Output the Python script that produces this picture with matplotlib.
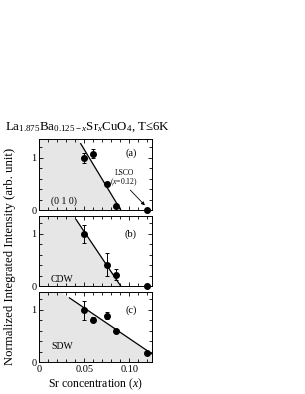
import numpy as np
import matplotlib.pyplot as plt
from matplotlib.ticker import MultipleLocator, FixedLocator

plt.rcParams['font.family'] = ['Liberation Serif', 'DejaVu Serif']
plt.rcParams['mathtext.fontset'] = 'custom'
plt.rcParams['mathtext.rm'] = 'Liberation Serif'
plt.rcParams['mathtext.it'] = 'Liberation Serif:italic'

# panel (a): (0 1 0)
a_x = [0.05, 0.06, 0.075, 0.085, 0.12]
a_y = [1.00, 1.08, 0.50, 0.07, 0.0]
a_err = [0.10, 0.08, 0.0, 0.0, 0.0]
a_line = ([0.046, 0.0905], [1.27, 0.0])

# panel (b): CDW
b_x = [0.05, 0.075, 0.085, 0.12]
b_y = [1.00, 0.41, 0.22, 0.0]
b_err = [0.17, 0.22, 0.10, 0.0]
b_line = ([0.041, 0.0905], [1.27, 0.0])

# panel (c): SDW
c_x = [0.05, 0.06, 0.075, 0.085, 0.12]
c_y = [0.99, 0.81, 0.89, 0.60, 0.18]
c_err = [0.18, 0.05, 0.06, 0.0, 0.0]
c_line = ([0.0334, 0.125], [1.23, 0.16])

panels = [
    (a_x, a_y, a_err, a_line, "(a)", "(0 1 0)", 1.08, 0.16),
    (b_x, b_y, b_err, b_line, "(b)", "CDW", 1.00, 0.13),
    (c_x, c_y, c_err, c_line, "(c)", "SDW", 1.00, 0.30),
]

XMAX = 0.125
YMAX = 1.35

fig = plt.figure(figsize=(3.05, 3.94), dpi=100)
bottoms = [0.467, 0.274, 0.081]
axes = []
for (xs, ys, err, line, tag, label, tag_y, lab_y), b in zip(panels, bottoms):
    ax = fig.add_axes([0.129, b, 0.3685, 0.179])
    axes.append(ax)
    lx, ly = line
    slope = (ly[1] - ly[0]) / (lx[1] - lx[0])
    xx = np.linspace(0, XMAX, 400)
    yy = np.clip(ly[0] + slope * (xx - lx[0]), 0, YMAX)
    ax.fill_between(xx, 0, yy, color='#e6e6e6', lw=0, zorder=0)
    ax.plot(lx, ly, color='black', lw=0.9, zorder=2)
    ax.errorbar(xs, ys, yerr=err, fmt='o', color='black', ms=4,
                elinewidth=0.7, capsize=1.5, capthick=0.7, zorder=3,
                clip_on=False)
    ax.set_xlim(0, XMAX)
    ax.set_ylim(0, YMAX)
    ax.yaxis.set_major_locator(FixedLocator([0, 1]))
    ax.yaxis.set_minor_locator(MultipleLocator(0.2))
    ax.xaxis.set_major_locator(FixedLocator([0, 0.05, 0.10]))
    ax.xaxis.set_minor_locator(MultipleLocator(0.01))
    ax.tick_params(which='both', direction='in', top=True, right=True,
                   labelsize=7.5, width=0.6)
    ax.tick_params(which='major', length=3, pad=2)
    ax.tick_params(which='minor', length=2)
    for s in ax.spines.values():
        s.set_linewidth(0.7)
    ax.text(0.815, tag_y, tag, transform=ax.get_yaxis_transform(),
            ha='center', va='center', fontsize=7.5)
    ax.text(0.013, lab_y, label, ha='left', va='center', fontsize=7)

for ax in axes[:-1]:
    ax.tick_params(labelbottom=False)
axes[-1].set_xticklabels(['0', '0.05', '0.10'])
axes[-1].set_xlabel(r'Sr concentration ($x$)', fontsize=8.5, labelpad=2)

axes[0].text(0.0945, 0.70, 'LSCO', ha='center', va='center', fontsize=5.5)
axes[0].text(0.0945, 0.53, r'($x$=0.12)', ha='center', va='center', fontsize=5.5)
axes[0].annotate('', xy=(0.1195, 0.05), xytext=(0.099, 0.42),
                 arrowprops=dict(arrowstyle='-|>', color='black', lw=0.6,
                                 mutation_scale=5))

fig.text(0.033, 0.35, 'Normalized Integrated Intensity (arb. unit)',
         rotation=90, ha='center', va='center', fontsize=9.2)
fig.text(0.015, 0.678,
         r'La$_{\mathrm{1.875}}$Ba$_{\mathrm{0.125-}x}$Sr$_x$CuO$_{\mathrm{4}}$, T≤6K',
         ha='left', va='center', fontsize=9.3)

fig.savefig('out.png', dpi=100)
